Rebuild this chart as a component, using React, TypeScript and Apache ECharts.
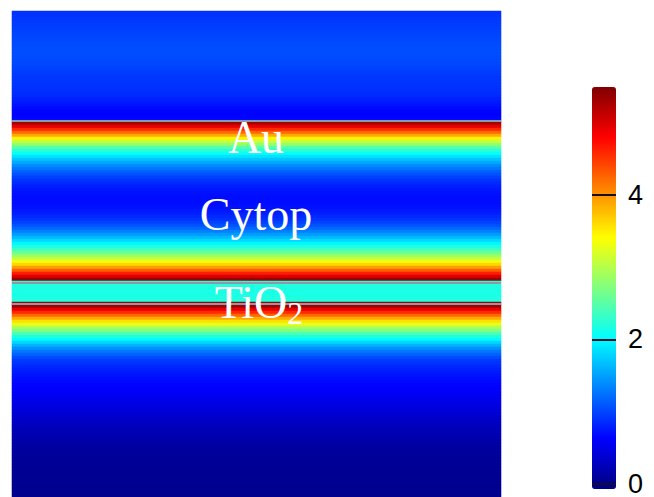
import React, { useEffect, useRef } from "react";
import * as echarts from "echarts";

// |E| field magnitude profile, one value per 3-px row from top to bottom
const profileRows: number[] = [
  0.95, 0.96, 0.98, 1.0, 1.01, 1.02, 1.03, 1.05, 1.06, 1.07,
  1.08, 1.09, 1.1, 1.1, 1.1, 1.09, 1.08, 1.07, 1.05, 1.03,
  1.01, 0.99, 0.98, 0.97, 0.96, 0.95, 0.94, 0.93, 0.9, 0.86,
  0.82, 0.78, 0.74, 0.7, 0.68, 0.7, 0.75, 5.3, 4.95, 4.6,
  4.25, 3.9, 3.5, 3.15, 2.85, 2.55, 2.3, 2.1, 1.92, 1.75,
  1.6, 1.45, 1.33, 1.22, 1.12, 1.03, 0.96, 0.9, 0.85, 0.81,
  0.78, 0.76, 0.75, 0.75, 0.76, 0.78, 0.81, 0.85, 0.9, 0.96,
  1.04, 1.13, 1.24, 1.37, 1.52, 1.68, 1.85, 2.02, 2.2, 2.4,
  2.62, 2.85, 3.1, 3.36, 3.65, 3.95, 4.3, 4.65, 5.0, 5.35,
  2.25, 2.25, 2.22, 2.2, 2.2, 2.22, 2.25, 5.3, 5.3, 4.95,
  4.6, 4.25, 3.9, 3.6, 3.3, 3.0, 2.75, 2.5, 2.25, 2.05,
  1.85, 1.65, 1.48, 1.34, 1.22, 1.1, 1.0, 0.95, 0.9, 0.86,
  0.82, 0.79, 0.76, 0.73, 0.71, 0.69, 0.67, 0.64, 0.61, 0.58,
  0.55, 0.52, 0.5, 0.47, 0.44, 0.41, 0.38, 0.35, 0.32, 0.3,
  0.28, 0.26, 0.24, 0.22, 0.2, 0.18, 0.16, 0.15, 0.14, 0.13,
  0.12, 0.11, 0.11, 0.1, 0.1, 0.09, 0.09, 0.09, 0.08, 0.08, 0.08, 0.08,
];
const columns = ["x"];
const rowCategories = profileRows.map((_, i) => String(i));
const interfaceRows = [36, 90, 97];
const colorbarTicks = [0, 2, 4];
const colorMin = 0;
const colorMax = 5.5;
const layerNames = ["Au", "Cytop", "TiO2"];

const jet = [
  "#000080", "#0000ff", "#0080ff", "#00ffff", "#80ff80",
  "#ffff00", "#ff8000", "#ff0000", "#800000",
];

function subscriptRich(name: string): string {
  return name.replace(/([A-Za-z]+)(\d+)?/g, (_m, a, d) =>
    d ? `{a|${a}}{b|${d}}` : `{a|${a}}`
  );
}

const serif = "Liberation Serif, Times New Roman, serif";

export default function App() {
  const ref = useRef<HTMLDivElement>(null);
  useEffect(() => {
    if (!ref.current) return;
    const chart = echarts.init(ref.current, null, { renderer: "svg" });
    const data = profileRows.map((v, i) => [0, i, v]);
    const gridTop = 11;
    const gridH = 486;
    const textY = [137, 214, 302];
    const textX = [256, 256, 259];
    chart.setOption({
      animation: false,
      backgroundColor: "#ffffff",
      grid: [
        { left: 12, top: gridTop, width: 489, height: gridH },
        { left: 592, top: 87, width: 24, height: 402 },
      ],
      xAxis: [
        { type: "category", data: columns, show: false, gridIndex: 0 },
        { type: "value", min: 0, max: 1, show: false, gridIndex: 1 },
      ],
      yAxis: [
        {
          type: "category",
          data: rowCategories,
          inverse: true,
          show: false,
          gridIndex: 0,
        },
        {
          type: "value",
          gridIndex: 1,
          position: "right",
          min: colorMin,
          max: colorMax,
          interval: 2,
          axisLine: { show: false },
          splitLine: { show: false },
          axisTick: {
            show: true,
            length: 9,
            customValues: colorbarTicks,
            lineStyle: { color: "#10102a", width: 2 },
          },
          axisLabel: {
            customValues: colorbarTicks,
            margin: 12,
            fontSize: 27,
            color: "#000000",
            fontFamily: "Liberation Sans, Arial, sans-serif",
          },
          z: 10,
        },
      ],
      visualMap: {
        type: "continuous",
        seriesIndex: 0,
        min: colorMin,
        max: colorMax,
        calculable: false,
        hoverLink: false,
        orient: "vertical",
        left: 592,
        top: 87,
        itemWidth: 24,
        itemHeight: 402,
        padding: 0,
        inRange: { color: jet },
      },
      series: [
        {
          type: "heatmap",
          xAxisIndex: 0,
          yAxisIndex: 0,
          data,
          silent: true,
          emphasis: { disabled: true },
          markLine: {
            silent: true,
            symbol: ["none", "none"],
            label: { show: false },
            lineStyle: { type: "solid", color: "#8a9aae", width: 2 },
            data: interfaceRows.map((r) => ({ yAxis: r })),
          },
        },
        {
          type: "line",
          xAxisIndex: 1,
          yAxisIndex: 1,
          data: [],
          silent: true,
          z: 10,
          markLine: {
            silent: true,
            z: 10,
            symbol: ["none", "none"],
            label: { show: false },
            lineStyle: { type: "solid", color: "#10102a", width: 2 },
            data: colorbarTicks.map((t) => ({ yAxis: t })),
          },
        },
      ],
      graphic: layerNames.map((name, i) => ({
        type: "text",
        x: textX[i],
        y: textY[i],
        z: 20,
        silent: true,
        style: {
          text: subscriptRich(name),
          align: "center",
          verticalAlign: "middle",
          fill: "#ffffff",
          fontFamily: serif,
          fontSize: 46,
          rich: {
            a: {
              fontSize: 46,
              lineHeight: 50,
              fill: "#ffffff",
              fontFamily: serif,
            },
            b: {
              fontSize: 32,
              lineHeight: 32,
              padding: [22, 0, 0, 0],
              fill: "#ffffff",
              fontFamily: serif,
            },
          },
        },
      })),
    });
    return () => chart.dispose();
  }, []);
  return (
    <div
      ref={ref}
      style={{ position: "fixed", left: 0, top: 0, width: 654, height: 497 }}
    />
  );
}
